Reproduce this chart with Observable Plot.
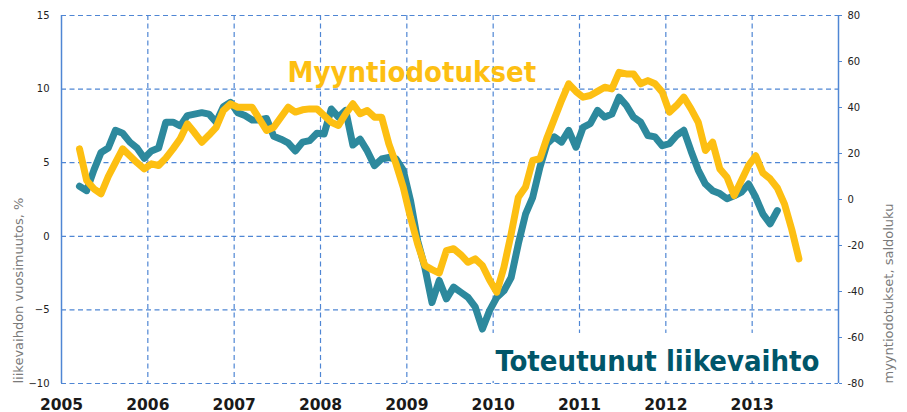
<!DOCTYPE html>
<html><head><meta charset="utf-8">
<script src="https://cdn.jsdelivr.net/npm/d3@7"></script>
<script src="https://cdn.jsdelivr.net/npm/@observablehq/plot@0.6"></script>
<style>body{margin:0;background:#fff} #chart{width:907px;height:412px}</style>
</head><body><div id="chart"></div>
<script>
// ---- data ----
const years = [2005, 2006, 2007, 2008, 2009, 2010, 2011, 2012, 2013];
const gridYears = [2006, 2007, 2008, 2009, 2010, 2011, 2012, 2013];
const leftTicks = [-10, -5, 0, 5, 10, 15];
const rightTicks = [-80, -60, -40, -20, 0, 20, 40, 60, 80];

// Toteutunut liikevaihto, vuosimuutos % (monthly, from March 2005)
const turnoverStart = [2005, 3];
const turnover = [
  3.4, 3.1, 4.5, 5.7, 6.0, 7.2, 7.0, 6.4, 6.0, 5.3,
  5.8, 6.0, 7.75, 7.75, 7.5, 8.2, 8.3, 8.4, 8.3, 7.75, 8.8, 9.1,
  8.4, 8.2, 7.9, 7.9, 8.0, 6.8, 6.6, 6.35, 5.8, 6.4, 6.5, 7.0,
  6.95, 8.65, 8.1, 8.55, 6.2, 6.6, 5.8, 4.8, 5.25, 5.35, 5.25, 4.5,
  2.45, -0.3, -2.1, -4.5, -3.0, -4.25, -3.45, -3.8, -4.15, -4.8, -6.3, -5.05,
  -4.15, -3.7, -2.8, -0.5, 1.5, 2.65, 4.7, 6.3, 6.75, 6.4, 7.2, 6.05,
  7.4, 7.65, 8.55, 8.1, 8.3, 9.45, 8.9, 8.1, 7.75, 6.85, 6.75, 6.15,
  6.3, 6.85, 7.2, 5.8, 4.5, 3.55, 3.1, 2.9, 2.55, 2.75, 3.0, 3.55,
  2.65, 1.5, 0.85, 1.75
];

// Myyntiodotukset, saldoluku (monthly, from March 2005)
const ordersStart = [2005, 3];
const orders = [
  22.0, 8.3, 4.65, 2.5, 10, 16, 22, 19, 16, 13.3,
  15.5, 14.8, 18, 22, 26.4, 32.9, 29, 24.9, 28, 31.4, 38.7, 41.6,
  40.1, 40.1, 40.1, 35.1, 30.0, 31.4, 35.8, 40.1, 38.0, 39, 39.4, 39.4,
  36.5, 33.6, 32.2, 37.3, 41.6, 37.3, 38.7, 35.8, 35.8, 24.2, 15.5, 5.35,
  -7.7, -19.3, -28.7, -30.5, -32, -22.2, -21.4, -24, -27.3, -25.8, -28.7, -35,
  -40.3, -29.4, -15, 1.0, 5.4, 17.0, 17.7, 27, 35, 43, 50.3, 47,
  44.5, 45.2, 47, 48.8, 48.1, 55.3, 54.6, 54.6, 50.3, 51.7, 50.3, 46.7,
  38.0, 40.9, 44.5, 39.4, 33.6, 21.3, 24.9, 13.3, 9.7, 1.7, 8.3, 14.8,
  19, 11.5, 9, 5, -2, -13, -25.8
];

const turnoverLabel = "Toteutunut liikevaihto";
const ordersLabel = "Myyntiodotukset";
const leftTitle = "liikevaihdon vuosimuutos, %";
const rightTitle = "myyntiodotukset, saldoluku";

// ---- helpers ----
const leftDomain = [-10, 15];
const rightDomain = [-80, 80];
const toLeft = v => leftDomain[0] + (v - rightDomain[0]) * (leftDomain[1] - leftDomain[0]) / (rightDomain[1] - rightDomain[0]);
const monthX = (start, i) => start[0] + (start[1] - 1 + i + 0.5) / 12;

const turnoverData = turnover.map((v, i) => ({x: monthX(turnoverStart, i), y: v}));
const ordersData = orders.map((v, i) => ({x: monthX(ordersStart, i), y: toLeft(v)}));

const gridColor = "#4f86d4";
const teal = "#2d899d";
const yellow = "#fdbf12";
const darkTeal = "#00566a";
const font = "DejaVu Sans";
const condensed = "'DejaVu Sans Condensed', 'DejaVu Sans', sans-serif";

const chart = Plot.plot({
  width: 907,
  height: 412,
  marginLeft: 61,
  marginRight: 69,
  marginTop: 15,
  marginBottom: 29,
  style: {fontFamily: font, background: "white", overflow: "visible"},
  x: {domain: [years[0], years[years.length - 1] + 1]},
  y: {domain: leftDomain},
  marks: [
    Plot.ruleY(leftTicks, {stroke: gridColor, strokeWidth: 1.2, strokeDasharray: "5,3.5"}),
    Plot.ruleX(gridYears, {stroke: gridColor, strokeWidth: 1.2, strokeDasharray: "5,3.5"}),
    Plot.rect([{x1: 2009.98, x2: 2013.98, y1: -9.85, y2: -6.6}], {x1: "x1", x2: "x2", y1: "y1", y2: "y2", fill: "white"}),
    Plot.ruleX([years[0], years[years.length - 1] + 1], {stroke: gridColor, strokeWidth: 1.5}),
    Plot.axisX(years, {tickSize: 0, tickPadding: 15, tickFormat: d => String(d), fontSize: 15.5, fontWeight: "bold", fill: "#1a1a1a"}),
    Plot.axisY(leftTicks, {anchor: "left", tickSize: 0, tickPadding: 12, fontSize: 10, fill: "#222", label: null}),
    Plot.axisY(rightTicks.map(toLeft), {anchor: "right", tickSize: 3, tickPadding: 6, stroke: gridColor, fill: "#222", fontSize: 10, label: null,
      tickFormat: (d, i) => String(rightTicks[i])}),
    Plot.line(turnoverData, {x: "x", y: "y", stroke: teal, strokeWidth: 7, strokeLinejoin: "round", strokeLinecap: "round"}),
    Plot.line(ordersData, {x: "x", y: "y", stroke: yellow, strokeWidth: 7, strokeLinejoin: "round", strokeLinecap: "round"}),
    Plot.text([ordersLabel], {frameAnchor: "top-left", dx: 226, dy: 66, lineAnchor: "bottom", textAnchor: "start",
      fill: yellow, fontSize: 29, fontWeight: "bold", fontFamily: condensed}),
    Plot.text([turnoverLabel], {frameAnchor: "bottom-left", dx: 434, dy: -13, lineAnchor: "bottom", textAnchor: "start",
      fill: darkTeal, fontSize: 29, fontWeight: "bold", fontFamily: condensed}),
    Plot.text([leftTitle], {frameAnchor: "bottom-left", dx: -43, rotate: -90, textAnchor: "start", lineAnchor: "middle",
      fill: "#7a7a7a", fontSize: 13}),
    Plot.text([rightTitle], {frameAnchor: "bottom-right", dx: 50, rotate: -90, textAnchor: "start", lineAnchor: "middle",
      fill: "#7a7a7a", fontSize: 13})
  ]
});
document.getElementById("chart").appendChild(chart);
</script>
</body></html>
